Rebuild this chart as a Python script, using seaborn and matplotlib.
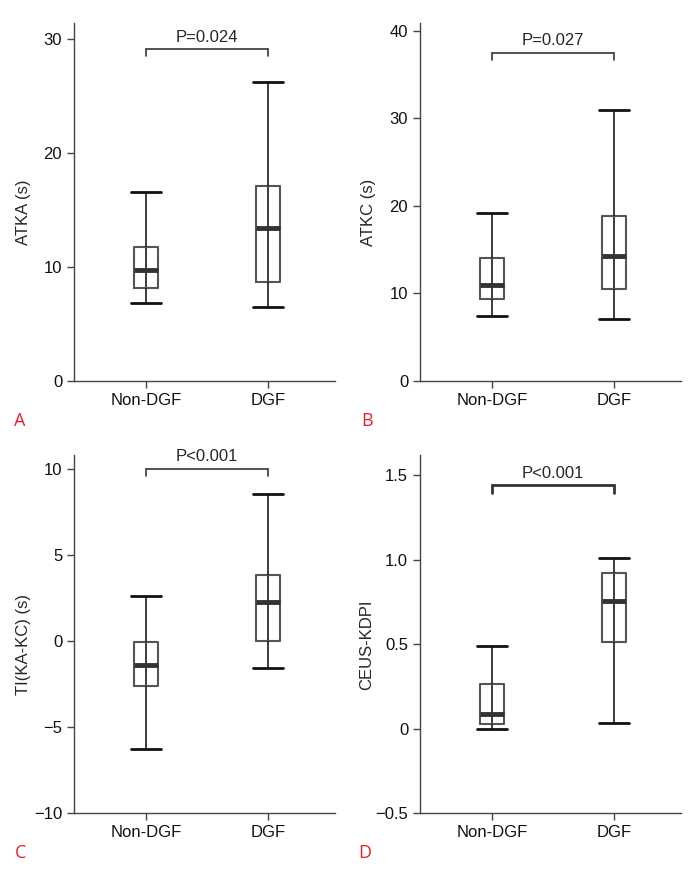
import numpy as np
import pandas as pd
import seaborn as sns
import matplotlib.pyplot as plt

# five-number summaries (min, Q1, median, Q3, max)
groups = ["Non-DGF", "DGF"]

atka_nondgf = [6.8, 8.2, 9.75, 11.75, 16.6]
atka_dgf = [6.5, 8.65, 13.45, 17.1, 26.2]

atkc_nondgf = [7.4, 9.35, 10.95, 14.05, 19.2]
atkc_dgf = [7.05, 10.5, 14.3, 18.9, 31.0]

ti_nondgf = [-6.3, -2.65, -1.4, -0.05, 2.63]
ti_dgf = [-1.6, 0.0, 2.27, 3.84, 8.55]

kdpi_nondgf = [0.0, 0.026, 0.085, 0.263, 0.49]
kdpi_dgf = [0.032, 0.514, 0.757, 0.924, 1.01]

ylabels = ["ATKA (s)", "ATKC (s)", "TI(KA-KC) (s)", "CEUS-KDPI"]
p_texts = ["P=0.024", "P=0.027", "P<0.001", "P<0.001"]
bracket_y = [29.1, 37.5, 10.0, 1.44]
bracket_low = [28.5, 36.7, 9.6, 1.395]
yticks_a = [0, 10, 20, 30]
yticks_b = [0, 10, 20, 30, 40]
yticks_c = [-10, -5, 0, 5, 10]
yticklabels_c = ["\u221210", "\u22125", "0", "5", "10"]
yticks_d = [-0.5, 0, 0.5, 1.0, 1.5]
yticklabels_d = ["\u22120.5", "0", "0.5", "1.0", "1.5"]
letters = ["A", "B", "C", "D"]

sns.set_style("white")
plt.rcParams["font.family"] = ["Liberation Sans", "DejaVu Sans"]

fig = plt.figure(figsize=(6.98, 8.81), dpi=100)

W, H = 698, 881


def add_ax(left, top, right, bottom):
    return fig.add_axes([left / W, 1 - bottom / H, (right - left) / W, (bottom - top) / H])


def draw_panel(ax, nondgf, dgf, ylabel, ylim, yticks, yticklabels, ptext, by, blow,
               bracket_lw, label_x, letter, letter_xy):
    df = pd.DataFrame({
        "group": [groups[0]] * len(nondgf) + [groups[1]] * len(dgf),
        "value": nondgf + dgf,
    })
    sns.boxplot(
        data=df, x="group", y="value", order=groups, ax=ax,
        width=0.2, whis=(0, 100), fill=False, color="#555555", linewidth=1.5,
        capwidths=0.25, showfliers=False,
        medianprops=dict(color="#333333", linewidth=3.5),
        whiskerprops=dict(color="#1a1a1a", linewidth=1.2),
        capprops=dict(color="#111111", linewidth=2.0),
        boxprops=dict(color="#555555", linewidth=1.5),
    )
    # whisker line continues through the box
    q1 = [nondgf[1], dgf[1]]
    q3 = [nondgf[3], dgf[3]]
    ax.vlines([0, 1], q1, q3, color="#1a1a1a", linewidth=1.2, zorder=1)

    # significance bracket
    ax.plot([0, 0, 1, 1], [blow, by, by, blow], color="#333333", linewidth=bracket_lw,
            solid_joinstyle="miter", clip_on=False)
    ax.text(0.5, by + (ylim[1] - ylim[0]) * 0.012, ptext, ha="center", va="bottom", fontsize=12)

    ax.set_xlim(-0.59, 1.55)
    ax.set_ylim(*ylim)
    ax.set_yticks(yticks)
    ax.set_yticklabels(yticklabels)
    ax.set_xlabel("")
    ax.set_ylabel(ylabel, fontsize=12)
    ax.yaxis.set_label_coords(label_x, 0.47)
    for side in ["top", "right"]:
        ax.spines[side].set_visible(False)
    for side in ["left", "bottom"]:
        ax.spines[side].set_color("#444444")
        ax.spines[side].set_linewidth(1.0)
    ax.tick_params(axis="both", direction="out", length=5, width=1, color="#444444",
                   labelsize=12, labelcolor="#111111", left=True, bottom=True)
    fig.text(letter_xy[0] / W, 1 - letter_xy[1] / H, letter, color="#e8202a", fontsize=13,
             family="Open Sans", ha="center", va="center")


ax_a = add_ax(74, 23, 335, 381)
ax_b = add_ax(420, 23, 681, 381)
ax_c = add_ax(74, 455, 335, 813)
ax_d = add_ax(420, 455, 681, 813)

draw_panel(ax_a, atka_nondgf, atka_dgf, ylabels[0], (0, 31.4), yticks_a,
           [str(t) for t in yticks_a], p_texts[0], bracket_y[0], bracket_low[0], 1.2,
           -0.165, letters[0], (20, 421))
draw_panel(ax_b, atkc_nondgf, atkc_dgf, ylabels[1], (0, 40.9), yticks_b,
           [str(t) for t in yticks_b], p_texts[1], bracket_y[1], bracket_low[1], 1.2,
           -0.17, letters[1], (367, 421))
draw_panel(ax_c, ti_nondgf, ti_dgf, ylabels[2], (-10, 10.8), yticks_c,
           yticklabels_c, p_texts[2], bracket_y[2], bracket_low[2], 1.2,
           -0.165, letters[2], (21, 853))
draw_panel(ax_d, kdpi_nondgf, kdpi_dgf, ylabels[3], (-0.5, 1.62), yticks_d,
           yticklabels_d, p_texts[3], bracket_y[3], bracket_low[3], 2.0,
           -0.175, letters[3], (365, 853))

fig.savefig("out.png", dpi=100)
